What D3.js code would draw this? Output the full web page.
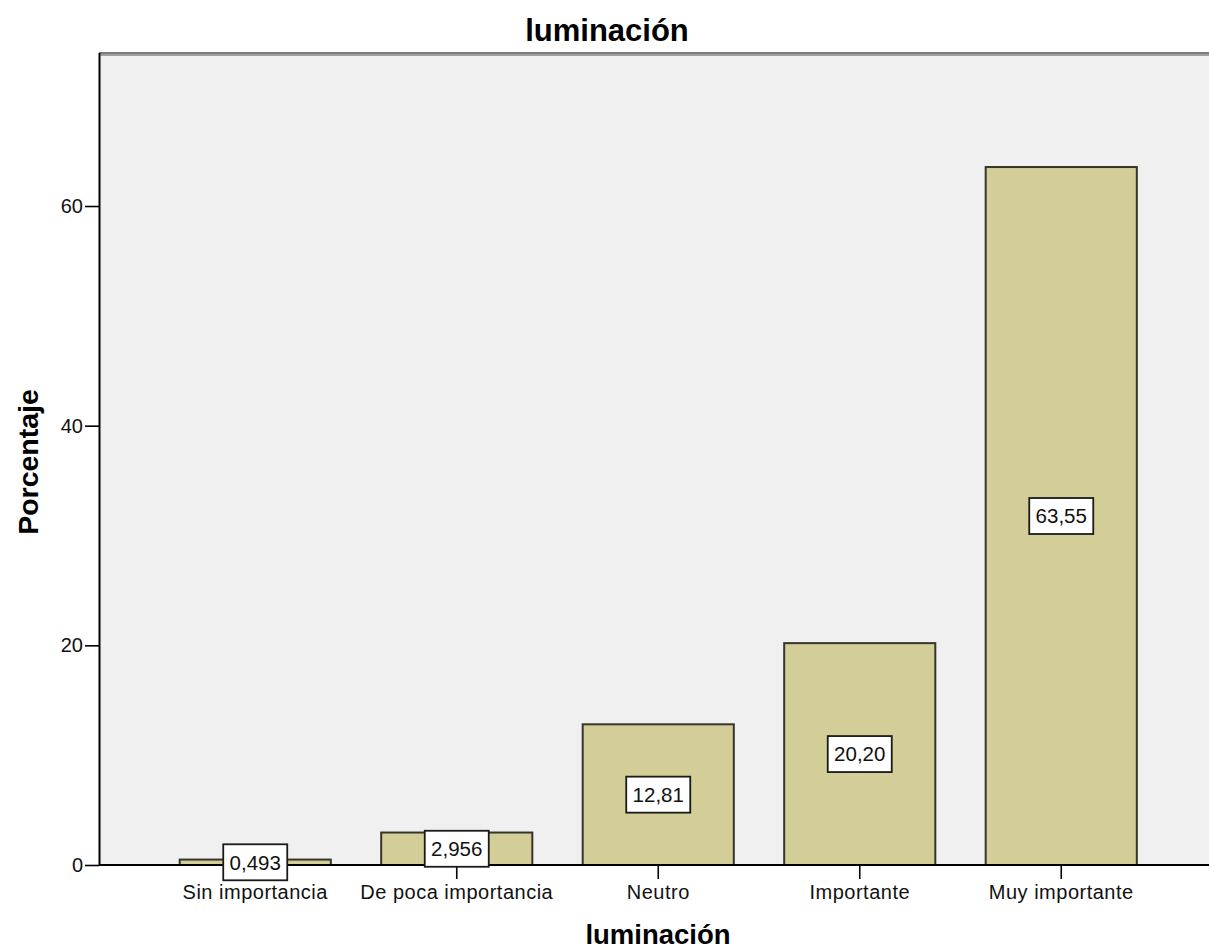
<!DOCTYPE html>
<html><head><meta charset="utf-8">
<script src="https://cdn.jsdelivr.net/npm/d3@7"></script>
<style>body{margin:0;background:#fff}svg{display:block}</style>
</head><body>
<script>
const categories = ["Sin importancia","De poca importancia","Neutro","Importante","Muy importante"];
const values = [0.493, 2.956, 12.81, 20.20, 63.55];
const valueLabels = ["0,493","2,956","12,81","20,20","63,55"];
const yTicks = [0, 20, 40, 60];
const titleText = "luminación";
const xTitle = "luminación";
const yTitle = "Porcentaje";

const W = 1209, H = 952;
const plot = {left: 99, right: 1209, top: 55, bottom: 865};
const svg = d3.select("body").append("svg").attr("width", W).attr("height", H);
const font = "'Liberation Sans', Arial, sans-serif";

const x = d3.scaleBand().domain(categories).range([154.5, 1162]).paddingInner(0.25).paddingOuter(0.125);
const y = d3.scaleLinear().domain([0, 73.75]).range([plot.bottom, plot.top]);

// background
svg.append("rect").attr("x", plot.left).attr("y", plot.top).attr("width", plot.right - plot.left)
  .attr("height", plot.bottom - plot.top).attr("fill", "#f0f0f0");
// top border
svg.append("rect").attr("x", plot.left).attr("y", 52).attr("width", plot.right - plot.left).attr("height", 4)
  .attr("fill", "#a0a0a0");
svg.append("line").attr("x1", plot.left).attr("x2", plot.right).attr("y1", 53).attr("y2", 53)
  .attr("stroke", "#707070").attr("stroke-width", 1.5);
// bars
svg.selectAll("rect.bar").data(categories).join("rect").attr("class", "bar")
  .attr("x", d => x(d)).attr("width", x.bandwidth())
  .attr("y", (d, i) => y(values[i])).attr("height", (d, i) => y(0) - y(values[i]))
  .attr("fill", "#d3ce97").attr("stroke", "#35352a").attr("stroke-width", 2);

// y axis
const yAxis = d3.axisLeft(y).tickValues(yTicks).tickSize(14).tickPadding(2).tickFormat(d3.format("d"));
const ga = svg.append("g").attr("transform", `translate(${plot.left},0)`).call(yAxis);
ga.select(".domain").attr("d", `M0.5,${plot.top - 2}V${plot.bottom}`).attr("stroke", "#000").attr("stroke-width", 2);
ga.selectAll(".tick line").attr("stroke", "#000").attr("stroke-width", 1.6);
ga.selectAll("text").attr("font-family", font).attr("font-size", 20).attr("fill", "#111");

// x axis
const xAxis = d3.axisBottom(x).tickSize(14).tickPadding(6);
const gx = svg.append("g").attr("transform", `translate(0,${plot.bottom})`).call(xAxis);
gx.select(".domain").attr("d", `M${plot.left},0H${plot.right}`).attr("stroke", "#000").attr("stroke-width", 1.8);
gx.selectAll(".tick line").attr("stroke", "#000").attr("stroke-width", 1.6);
gx.selectAll("text").attr("font-family", font).attr("font-size", 20).attr("letter-spacing", 0.5).attr("fill", "#111");

// value labels
const lab = svg.selectAll("g.lab").data(categories).join("g").attr("class", "lab")
  .attr("transform", (d, i) => `translate(${x(d) + x.bandwidth() / 2},${y(values[i] / 2)})`);
lab.append("rect").attr("x", -32).attr("y", -18).attr("width", 64).attr("height", 36)
  .attr("fill", "#fff").attr("stroke", "#1a1a1a").attr("stroke-width", 1.8);
lab.append("text").attr("text-anchor", "middle").attr("dy", "0.36em")
  .attr("font-family", font).attr("font-size", 20.5).attr("fill", "#111")
  .text((d, i) => valueLabels[i]);

// titles
svg.append("text").attr("x", 607).attr("y", 41).attr("text-anchor", "middle")
  .attr("font-family", font).attr("font-weight", "bold").attr("font-size", 31).text(titleText);
svg.append("text").attr("x", 658).attr("y", 944).attr("text-anchor", "middle")
  .attr("font-family", font).attr("font-weight", "bold").attr("font-size", 27.5).text(xTitle);
svg.append("text").attr("transform", "translate(38,462) rotate(-90)").attr("text-anchor", "middle")
  .attr("font-family", font).attr("font-weight", "bold").attr("font-size", 28.5).text(yTitle);
</script>
</body></html>
